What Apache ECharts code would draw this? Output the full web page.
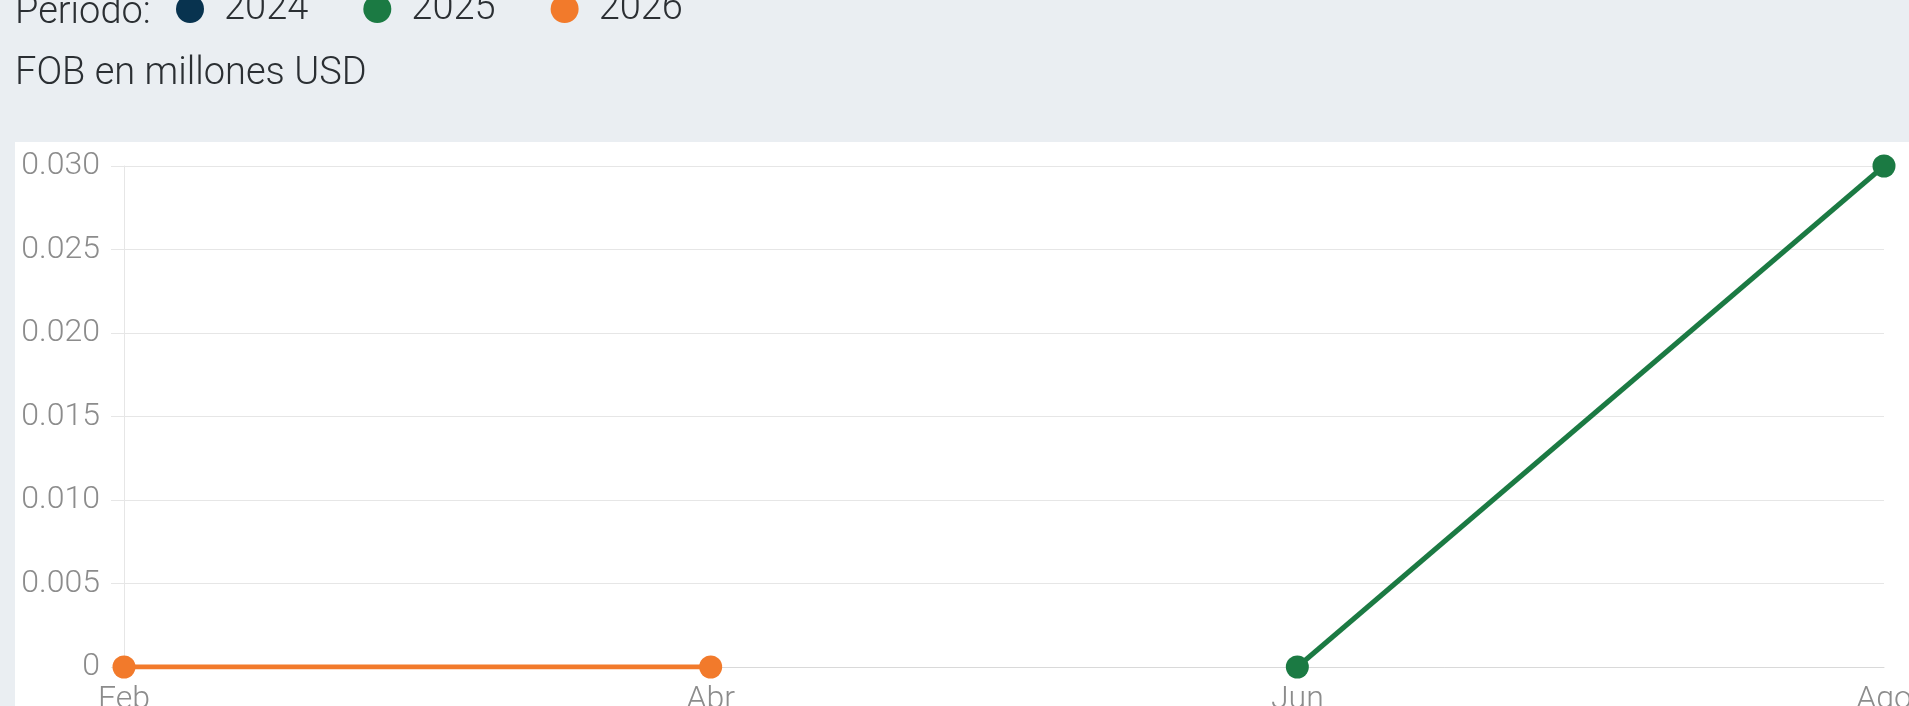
<!DOCTYPE html>
<html>
<head>
<meta charset="utf-8">
<script src="https://cdn.jsdelivr.net/npm/echarts@6/dist/echarts.min.js"></script>
<style>
  html, body { margin: 0; padding: 0; width: 1909px; height: 706px; overflow: hidden; background: #eaeef2; }
  /* white card behind the plot */
  #panel { position: absolute; left: 15px; top: 142px; right: 0; bottom: 0; background: #ffffff; }
  #chart { position: absolute; left: 0; top: 0; width: 1909px; height: 706px; }
</style>
</head>
<body>
<div id="panel"></div>
<div id="chart"></div>
<script>
/* ================================
   DATA
================================ */
const months   = ["Feb", "Abr", "Jun", "Ago"];
const years    = ["2024", "2025", "2026"];
const fob2024  = [null, null, null, null];
const fob2025  = [null, null, 0, 0.03];
const fob2026  = [0, 0, null, null];
const yTicks   = [0, 0.005, 0.01, 0.015, 0.02, 0.025, 0.03];

const colors = { "2024": "#08334f", "2025": "#1b7a43", "2026": "#f27a2b" };
const FONT   = "Roboto";

/* ================================
   SERIES
================================ */
function lineSeries(name, values) {
  return {
    name: name,
    type: "line",
    data: values,
    symbol: "circle",
    symbolSize: 23,
    showSymbol: true,
    connectNulls: false,
    lineStyle: { width: 5, color: colors[name] },
    itemStyle: { color: colors[name] },
    emphasis: { disabled: true }
  };
}

const chart = echarts.init(document.getElementById("chart"));

chart.setOption({
  backgroundColor: "transparent",
  animation: false,
  textStyle: { fontFamily: FONT },
  title: [
    {
      text: "Período:",
      left: 15, top: -6, padding: 0,
      textStyle: { fontFamily: FONT, fontSize: 38, fontWeight: 300, color: "#2b2f33" }
    },
    {
      text: "FOB en millones USD",
      left: 15, top: 55, padding: 0,
      textStyle: { fontFamily: FONT, fontSize: 38, fontWeight: 300, color: "#2b2f33" }
    }
  ],
  legend: {
    data: years,
    icon: "circle",
    left: 176, top: -10, padding: 0,
    itemWidth: 28, itemHeight: 28,
    itemGap: 55,
    selectedMode: false,
    textStyle: { fontFamily: FONT, fontSize: 38, fontWeight: 300, color: "#2b2f33", padding: [0, 0, 0, 15] }
  },
  grid: { left: 124, right: 25, top: 166, bottom: 39, containLabel: false, outerBoundsMode: "none" },
  xAxis: {
    type: "category",
    data: months,
    boundaryGap: false,
    axisLine: { show: true, lineStyle: { color: "#d9d9d9", width: 1 } },
    axisTick: { show: false },
    axisLabel: { fontFamily: FONT, fontSize: 32, fontWeight: 300, color: "#8c8c8c", margin: 17 },
    splitLine: { show: false }
  },
  yAxis: {
    type: "value",
    min: yTicks[0],
    max: yTicks[yTicks.length - 1],
    interval: 0.005,
    axisLine: { show: true, lineStyle: { color: "#e6e6e6", width: 1 } },
    axisTick: { show: true, length: 13, lineStyle: { color: "#e6e6e6" } },
    axisLabel: {
      fontFamily: FONT, fontSize: 32, fontWeight: 300, color: "#8c8c8c", margin: 24,
      formatter: v => (v === 0 ? "0" : v.toFixed(3))
    },
    splitLine: { show: true, lineStyle: { color: "#e6e6e6", width: 1 } }
  },
  series: [
    lineSeries("2024", fob2024),
    lineSeries("2025", fob2025),
    lineSeries("2026", fob2026)
  ]
});
</script>
</body>
</html>
